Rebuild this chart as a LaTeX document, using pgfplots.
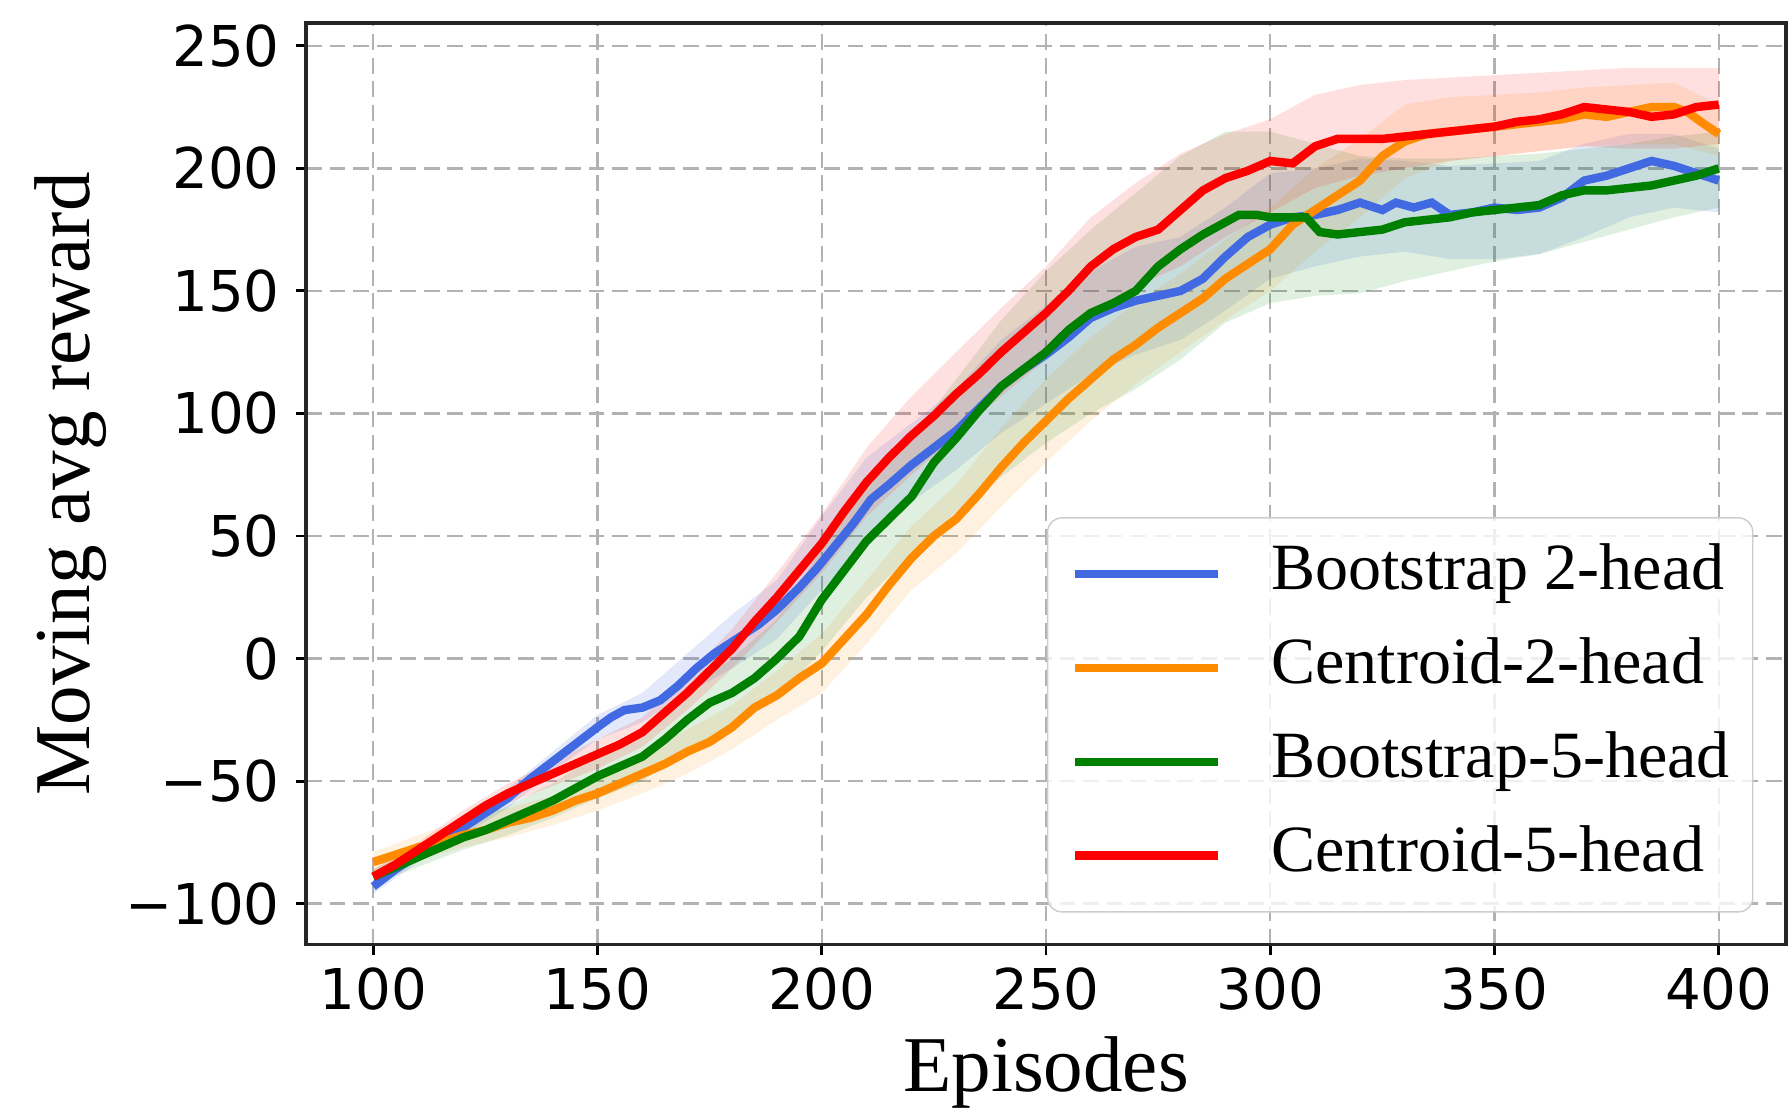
\documentclass[border=0pt]{standalone}
\usepackage{fontspec}
\setmainfont{Liberation Serif}
\newfontfamily\dejavu{DejaVu Sans}
\usepackage{pgfplots}
\usepackage{pgfplotstable}
\pgfplotsset{compat=1.18}
\usepgfplotslibrary{fillbetween}

\definecolor{cB}{RGB}{65,105,225}
\definecolor{cO}{RGB}{255,140,0}
\definecolor{cG}{RGB}{0,128,0}
\definecolor{cR}{RGB}{255,0,0}

% mean curves
\pgfplotstableread{
x y
100 -93
105 -86
110 -80
115 -76
120 -69
125 -63
130 -57
135 -49
140 -42
145 -35
150 -28
153 -24
156 -21
160 -20
164 -17
168 -11
172 -4
176 2
181 8
186 14
190 20
195 29
199 37
203 46
207 55
211 65
215 71
220 79
225 86
230 93
235 102
240 111
245 118
250 124
255 131
260 139
265 143
270 146
275 148
280 150
285 155
290 164
295 172
300 177
305 180
310 181
315 183
320 186
325 183
328 186
332 184
336 186
340 181
345 182
350 184
355 183
360 184
365 188
370 195
375 197
380 200
385 203
390 201
395 198
400 195
}\meanB

\pgfplotstableread{
x y
100 -83
105 -80
110 -77
115 -75
120 -72
125 -70
130 -67
135 -65
140 -62
145 -58
150 -55
155 -51
160 -47
165 -43
170 -38
175 -34
180 -28
185 -20
190 -15
195 -8
200 -2
205 8
210 18
215 30
220 41
225 50
230 57
235 67
240 78
245 88
250 97
255 106
260 114
265 122
270 128
275 135
280 141
285 147
290 155
295 161
300 167
305 177
310 183
315 189
320 195
325 205
330 211
335 214
340 215
345 216
350 217
355 218
360 219
365 220
370 222
375 221
380 223
385 225
390 225
393 223
396 219
400 214
}\meanO

\pgfplotstableread{
x y
100 -89
105 -85
110 -81
115 -77
120 -73
125 -70
130 -66
135 -62
140 -58
145 -53
150 -48
155 -44
160 -40
165 -33
170 -25
175 -18
180 -14
185 -8
190 0
195 9
200 24
205 36
210 48
215 57
220 66
225 80
230 90
235 101
240 111
245 118
250 125
255 134
260 141
265 145
270 150
275 160
280 167
285 173
290 178
293 181
297 181
300 180
305 180
308 180
311 174
315 173
320 174
325 175
330 178
335 179
340 180
345 182
350 183
355 184
360 185
365 189
370 191
375 191
380 192
385 193
390 195
395 197
400 200
}\meanG

\pgfplotstableread{
x y
100 -89
105 -84
110 -78
115 -72
120 -66
125 -60
130 -55
135 -51
140 -47
145 -43
150 -39
155 -35
160 -30
165 -22
170 -14
175 -5
180 4
185 15
190 25
195 36
200 47
205 60
210 72
215 82
220 91
225 99
230 108
235 116
240 125
245 133
250 141
255 150
260 160
265 167
270 172
275 175
280 183
285 191
290 196
295 199
300 203
305 202
310 209
315 212
320 212
325 212
330 213
335 214
340 215
345 216
350 217
355 219
360 220
365 222
370 225
375 224
380 223
385 221
390 222
395 225
400 226
}\meanR

% shaded bands
\pgfplotstableread{
x lo hi
100 -96 -90
110 -83 -77
120 -72 -66
130 -61 -53
140 -46 -38
150 -33 -23
160 -26 -14
170 -14 2
180 -4 18
190 8 32
200 28 58
210 48 82
220 64 96
230 77 110
240 92 130
250 104 144
260 116 158
270 124 168
280 130 172
290 142 184
300 155 198
310 160 200
320 164 204
330 166 203
340 163 201
350 163 202
360 165 203
370 172 210
380 180 214
390 184 214
400 182 208
}\bandB

\pgfplotstableread{
x lo hi
100 -87 -79
110 -82 -72
120 -77 -66
130 -73 -61
140 -68 -56
150 -62 -48
160 -55 -39
170 -47 -29
180 -37 -19
190 -25 -5
200 -14 10
210 6 32
220 28 54
230 43 71
240 62 94
250 80 114
260 97 131
270 112 145
280 125 157
290 138 171
300 150 184
310 166 200
320 180 212
330 196 226
340 203 229
350 205 230
360 207 231
370 209 233
380 210 234
390 210 235
400 205 226
}\bandO

\pgfplotstableread{
x lo hi
100 -92 -86
110 -85 -77
120 -78 -68
130 -72 -60
140 -65 -51
150 -57 -39
160 -50 -30
170 -37 -13
180 -28 0
190 -16 16
200 3 45
210 25 71
220 42 90
230 60 114
240 74 138
250 88 158
260 100 175
270 110 190
280 122 205
290 137 215
300 145 215
310 148 210
320 149 205
330 154 204
340 158 204
350 162 205
360 165 206
370 170 208
380 175 210
390 180 213
400 184 215
}\bandG

\pgfplotstableread{
x lo hi
100 -92 -86
110 -81 -75
120 -70 -62
130 -59 -51
140 -52 -42
150 -45 -33
160 -36 -24
170 -21 -7
180 -4 12
190 15 35
200 35 59
210 58 86
220 75 107
230 91 125
240 107 143
250 122 160
260 140 180
270 152 194
280 160 206
290 172 214
300 182 220
310 192 230
320 197 234
330 200 236
340 203 237
350 205 238
360 207 239
370 209 240
380 208 241
390 208 241
400 210 241
}\bandR

\begin{document}
\begin{tikzpicture}
\begin{axis}[
    name=ax,
    scale only axis,
    width=421.1pt, height=262.3pt,
    xmin=85, xmax=415, ymin=-116.8, ymax=259.3,
    xtick={100,150,...,400},
    xticklabels={100,150,200,250,300,350,400},
    ytick={-100,-50,...,250},
    yticklabels={−100,−50,0,50,100,150,200,250},
    xtick pos=bottom, ytick pos=left,
    tick align=outside,
    major tick length=2.8pt,
    tick style={black, line width=0.8pt},
    axis line style={black!85, line width=0.9pt},
    ticklabel style={font=\dejavu\fontsize{16}{19}\selectfont},
    xticklabel style={inner sep=3.5pt},
    yticklabel style={inner sep=4.5pt},
    grid=major,
    grid style={black!30, line width=0.7pt, dash pattern=on 4.5pt off 2.2pt},
    xlabel={Episodes},
    ylabel={Moving avg reward},
    label style={font=\fontsize{22.5}{27}\selectfont, inner sep=0pt},
    xlabel style={at={(axis description cs:0.5,-0.1594)}, anchor=base},
    ylabel style={at={(axis description cs:-0.1838,0.5)}, anchor=north},
    legend style={
        at={(0.978,0.035)}, anchor=south east,
        draw=black!20, rounded corners=4pt,
        fill=white, fill opacity=0.8, text opacity=1,
        font=\fontsize{18.8}{22}\selectfont,
        inner xsep=6.5pt, inner ysep=7.5pt,
        row sep=9.7pt,
        nodes={inner sep=0pt, text height=13pt, text depth=4pt},
    },
    legend cell align=left,
    legend image code/.code={\draw[#1, line width=2.4pt] (0pt,0pt) -- (40.7pt,0pt);},
    /tikz/every odd column/.append style={column sep=14pt},
]
% bands
\addplot[draw=none, name path=bBu, forget plot] table[x=x, y=hi] {\bandB};
\addplot[draw=none, name path=bBl, forget plot] table[x=x, y=lo] {\bandB};
\addplot[fill=cB, fill opacity=0.15, draw=none, forget plot] fill between[of=bBu and bBl];
\addplot[draw=none, name path=bOu, forget plot] table[x=x, y=hi] {\bandO};
\addplot[draw=none, name path=bOl, forget plot] table[x=x, y=lo] {\bandO};
\addplot[fill=cO, fill opacity=0.12, draw=none, forget plot] fill between[of=bOu and bOl];
\addplot[draw=none, name path=bGu, forget plot] table[x=x, y=hi] {\bandG};
\addplot[draw=none, name path=bGl, forget plot] table[x=x, y=lo] {\bandG};
\addplot[fill=cG, fill opacity=0.12, draw=none, forget plot] fill between[of=bGu and bGl];
\addplot[draw=none, name path=bRu, forget plot] table[x=x, y=hi] {\bandR};
\addplot[draw=none, name path=bRl, forget plot] table[x=x, y=lo] {\bandR};
\addplot[fill=cR, fill opacity=0.12, draw=none, forget plot] fill between[of=bRu and bRl];
% means
\addplot[cB, line width=2.4pt] table[x=x, y=y] {\meanB};
\addlegendentry{Bootstrap 2-head}
\addplot[cO, line width=2.4pt] table[x=x, y=y] {\meanO};
\addlegendentry{Centroid-2-head}
\addplot[cG, line width=2.4pt] table[x=x, y=y] {\meanG};
\addlegendentry{Bootstrap-5-head}
\addplot[cR, line width=2.4pt] table[x=x, y=y] {\meanR};
\addlegendentry{Centroid-5-head}
\end{axis}
\pgfresetboundingbox
\path ([shift={(-87.06pt,-48.08pt)}]ax.south west) rectangle ([shift={(0.85pt,6.54pt)}]ax.north east);
\end{tikzpicture}
\end{document}
